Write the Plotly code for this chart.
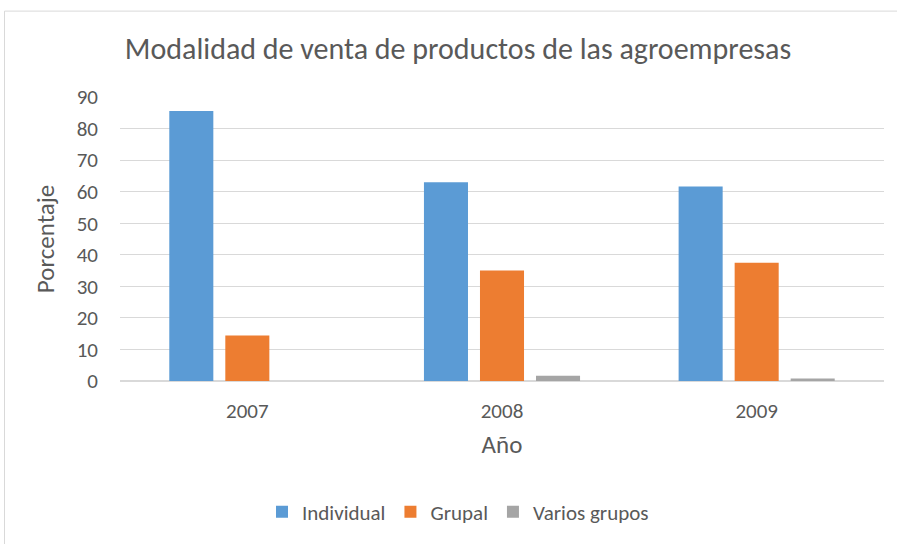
import plotly.graph_objects as go

years = ["2007", "2008", "2009"]
individual = [85.6, 63.0, 61.6]
grupal = [14.4, 35.0, 37.5]
varios = [0.0, 1.7, 0.8]
series_names = ["Individual", "Grupal", "Varios grupos"]
colors = ["#5b9bd5", "#ed7d31", "#a5a5a5"]

FONT = "Calibri, Carlito, Lato, sans-serif"
TXT = "#595959"

fig = go.Figure()
for name, vals, col in zip(series_names, [individual, grupal, varios], colors):
    fig.add_trace(go.Bar(x=years, y=vals, name=name, marker=dict(color=col, line=dict(width=0))))

W, H = 897, 544
L, R, T, B = 120, 13, 97, 161
pw = W - L - R
ph = H - T - B

fig.update_layout(
    width=W, height=H,
    margin=dict(l=L, r=R, t=T, b=B),
    paper_bgcolor="white", plot_bgcolor="white",
    barmode="group", bargap=0.34, bargroupgap=0.214,
    font=dict(family=FONT, color=TXT, size=21),
    title=dict(text="Modalidad de venta de productos de las agroempresas",
               x=458 / W, xanchor="center", y=1 - 48 / H, yanchor="middle",
               font=dict(size=30, color=TXT, family=FONT)),
    xaxis=dict(showgrid=False, showline=False, ticks="", tickfont=dict(size=21, color=TXT),
               ticklabelstandoff=15,
               title=dict(text="Año", font=dict(size=25, color=TXT), standoff=12)),
    yaxis=dict(range=[0, 90], dtick=10, showgrid=True, gridcolor="#d9d9d9", gridwidth=1,
               zeroline=True, zerolinecolor="#d9d9d9", zerolinewidth=1.5,
               showline=False, ticks="", tickfont=dict(size=21, color=TXT),
               ticklabelstandoff=21,
               title=dict(text="Porcentaje", font=dict(size=25, color=TXT), standoff=14)),
    legend=dict(orientation="h", x=(458 - L) / pw, xanchor="center",
                y=-(515 - (T + ph)) / ph, yanchor="middle",
                font=dict(size=21, color=TXT), itemwidth=30, tracegroupgap=0),
    showlegend=True,
)

fig.add_shape(type="rect", xref="paper", yref="paper",
              x0=(4.5 - L) / pw, x1=(W + 10 - L) / pw,
              y0=-(H + 10 - T - ph) / ph, y1=(T + ph - 10.5) / ph,
              line=dict(color="#d9d9d9", width=1), fillcolor="rgba(0,0,0,0)", layer="below")

fig.write_html("out.html", config={"displayModeBar": False},
               post_script="document.body.style.margin='0';")
